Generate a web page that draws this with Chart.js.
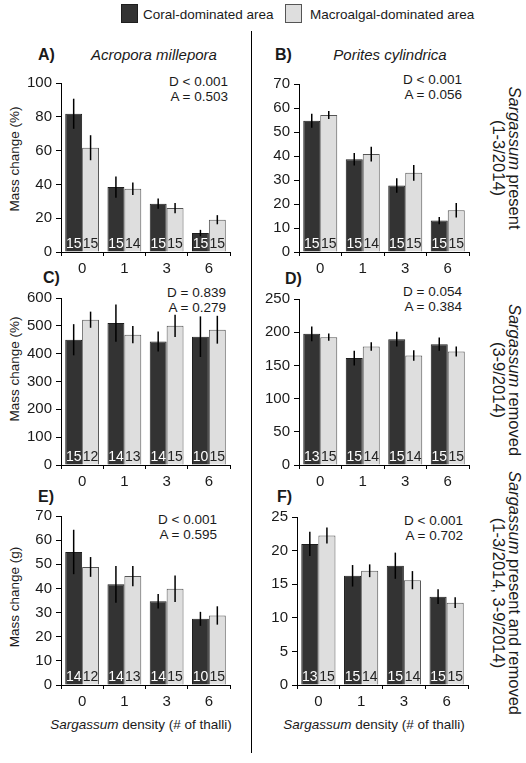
<!DOCTYPE html>
<html>
<head>
<meta charset="utf-8">
<script src="https://cdn.jsdelivr.net/npm/chart.js@4.4.1/dist/chart.umd.min.js"></script>
<style>
body { margin: 0; background: #fff; }
#fig { position: relative; width: 526px; height: 763px; overflow: hidden; font-family: "Liberation Sans", Arial, sans-serif; color: #1a1a1a; }
#fig canvas { position: absolute; }
.t { position: absolute; white-space: nowrap; line-height: 1; }
.lbl { font-weight: bold; font-size: 16px; }
.sp { font-style: italic; font-size: 15px; transform: translateX(-50%); }
.stat { font-size: 13.5px; line-height: 15px; text-align: right; transform: translateX(-100%); }
.ytitle { font-size: 13.5px; transform: translate(-50%, -50%) rotate(-90deg); }
.xtitle { font-size: 13.5px; transform: translate(-50%, -50%); }
.side { font-size: 16.5px; line-height: 16px; text-align: center; transform: translate(-50%, -50%) rotate(90deg); }
.box { position: absolute; width: 17px; height: 19px; box-sizing: border-box; }
</style>
</head>
<body>
<div id="fig">
  <div class="box" style="left:121px;top:4px;background:#333;border:1px solid #1e1e1e"></div>
  <div class="t" style="left:143px;top:8px;font-size:13.5px">Coral-dominated area</div>
  <div class="box" style="left:285px;top:4px;background:#dedede;border:1px solid #555"></div>
  <div class="t" style="left:310px;top:8px;font-size:13.5px">Macroalgal-dominated area</div>
  <div style="position:absolute;left:251px;top:31px;width:1px;height:722px;background:#000"></div>

  <div class="t lbl" style="left:38px;top:47px">A)</div>
  <div class="t sp" style="left:154px;top:47px">Acropora millepora</div>
  <div class="t lbl" style="left:275px;top:47px">B)</div>
  <div class="t sp" style="left:390px;top:47px">Porites cylindrica</div>
  <div class="t lbl" style="left:43px;top:270px">C)</div>
  <div class="t lbl" style="left:285px;top:271px">D)</div>
  <div class="t lbl" style="left:38px;top:489px">E)</div>
  <div class="t lbl" style="left:277px;top:489px">F)</div>

  <div class="t stat" style="left:228px;top:74px">D &lt; 0.001<br>A = 0.503</div>
  <div class="t stat" style="left:462px;top:71.5px">D &lt; 0.001<br>A = 0.056</div>
  <div class="t stat" style="left:226px;top:284.5px">D = 0.839<br>A = 0.279</div>
  <div class="t stat" style="left:462px;top:284px">D = 0.054<br>A = 0.384</div>
  <div class="t stat" style="left:217px;top:512px">D &lt; 0.001<br>A = 0.595</div>
  <div class="t stat" style="left:463px;top:513px">D &lt; 0.001<br>A = 0.702</div>

  <div class="t ytitle" style="left:15px;top:159px">Mass change (%)</div>
  <div class="t ytitle" style="left:15px;top:369px">Mass change (%)</div>
  <div class="t ytitle" style="left:15px;top:597px">Mass change (g)</div>
  <div class="t xtitle" style="left:141px;top:725px"><i>Sargassum</i> density (# of thalli)</div>
  <div class="t xtitle" style="left:374px;top:725px"><i>Sargassum</i> density (# of thalli)</div>

  <div class="t side" style="left:507px;top:158px"><i>Sargassum</i> present<br>(1-3/2014)</div>
  <div class="t side" style="left:507px;top:380px"><i>Sargassum</i> removed<br>(3-9/2014)</div>
  <div class="t side" style="left:507px;top:593px"><i>Sargassum</i> present and removed<br>(1-3/2014, 3-9/2014)</div>

  <canvas id="cA"></canvas><canvas id="cB"></canvas>
  <canvas id="cC"></canvas><canvas id="cD"></canvas>
  <canvas id="cE"></canvas><canvas id="cF"></canvas>
</div>
<script>
const densities = ['0', '1', '3', '6'];

// A) Acropora, Sargassum present
const acroPresCoral = [81.8, 38.4, 28.6, 11.2];
const acroPresCoralSE = [8.9, 6.3, 3.0, 1.9];
const acroPresMacro = [61.7, 37.4, 26.0, 19.1];
const acroPresMacroSE = [7.4, 3.7, 3.0, 2.7];
const acroPresN = [[15, 15, 15, 15], [15, 14, 15, 15]];

// B) Porites, Sargassum present
const porPresCoral = [54.7, 38.6, 27.7, 13.1];
const porPresCoralSE = [2.9, 2.6, 3.0, 1.5];
const porPresMacro = [57.1, 40.8, 33.0, 17.4];
const porPresMacroSE = [1.7, 3.1, 3.3, 3.0];
const porPresN = [[15, 15, 15, 15], [15, 14, 15, 15]];

// C) Acropora, Sargassum removed
const acroRemCoral = [450, 510, 444, 461];
const acroRemCoralSE = [56, 67, 36, 73];
const acroRemMacro = [522, 468, 500, 486];
const acroRemMacroSE = [29, 31, 40, 50];
const acroRemN = [[15, 14, 14, 10], [12, 13, 15, 15]];

// D) Porites, Sargassum removed
const porRemCoral = [197.5, 161, 189.5, 182];
const porRemCoralSE = [11, 11, 11, 10];
const porRemMacro = [192.5, 178.5, 165, 171];
const porRemMacroSE = [5.5, 6.5, 8, 7.5];
const porRemN = [[13, 15, 15, 15], [15, 14, 14, 15]];

// E) Acropora, whole year (g)
const acroAllCoral = [55.1, 41.7, 34.7, 27.4];
const acroAllCoralSE = [9.2, 7.6, 3.0, 2.9];
const acroAllMacro = [48.9, 45.1, 39.9, 28.8];
const acroAllMacroSE = [4.1, 4.2, 5.5, 3.8];
const acroAllN = [[14, 14, 14, 10], [12, 13, 15, 15]];

// F) Porites, whole year (g)
const porAllCoral = [21.0, 16.25, 17.75, 13.15];
const porAllCoralSE = [1.8, 1.6, 1.95, 1.1];
const porAllMacro = [22.25, 17.0, 15.6, 12.25];
const porAllMacroSE = [1.2, 0.95, 1.35, 0.8];
const porAllN = [[13, 15, 15, 15], [15, 14, 14, 15]];

Chart.defaults.font.family = '"Liberation Sans", Arial, sans-serif';
Chart.defaults.color = '#1a1a1a';

// error bars + sample sizes inside the bars
const errorBars = {
  id: 'errorBars',
  afterDatasetsDraw(chart) {
    const ctx = chart.ctx;
    const y = chart.scales.y;
    chart.data.datasets.forEach((ds, i) => {
      chart.getDatasetMeta(i).data.forEach((bar, j) => {
        const v = ds.data[j], e = ds.errors[j];
        ctx.save();
        ctx.strokeStyle = '#000';
        ctx.lineWidth = 1.5;
        ctx.beginPath();
        ctx.moveTo(bar.x, y.getPixelForValue(v + e));
        ctx.lineTo(bar.x, y.getPixelForValue(v - e));
        ctx.stroke();
        ctx.fillStyle = i === 0 ? '#fff' : '#222';
        ctx.font = '14px "Liberation Sans", Arial, sans-serif';
        ctx.textAlign = 'center';
        ctx.textBaseline = 'alphabetic';
        ctx.fillText(String(ds.counts[j]), bar.x, y.getPixelForValue(0) - 4);
        ctx.restore();
      });
    });
  }
};

function makePanel(id, box, yMax, yStep, coral, coralSE, macro, macroSE, ns) {
  const padL = 55, padT = 20, padR = 10, padB = 35;
  const cv = document.getElementById(id);
  const w = box.right - box.left + padL + padR;
  const h = box.bottom - box.top + padT + padB;
  cv.style.left = (box.left - padL) + 'px';
  cv.style.top = (box.top - padT) + 'px';
  cv.width = w; cv.height = h;
  cv.style.width = w + 'px'; cv.style.height = h + 'px';
  new Chart(cv, {
    type: 'bar',
    data: {
      labels: densities,
      datasets: [
        { data: coral, errors: coralSE, counts: ns[0], backgroundColor: '#333333', borderColor: '#1e1e1e', borderWidth: 1, categoryPercentage: 0.8, barPercentage: 1 },
        { data: macro, errors: macroSE, counts: ns[1], backgroundColor: '#dedede', borderColor: '#555555', borderWidth: 1, categoryPercentage: 0.8, barPercentage: 1 }
      ]
    },
    options: {
      responsive: false,
      animation: false,
      devicePixelRatio: 1,
      layout: { padding: { left: padL - 44, top: padT, right: padR, bottom: padB - 30 } },
      plugins: { legend: { display: false }, tooltip: { enabled: false } },
      scales: {
        x: {
          grid: { drawOnChartArea: false, tickLength: 4, color: '#000' },
          border: { color: '#000' },
          ticks: { color: '#1a1a1a', font: { size: 15 }, padding: 4 },
          afterFit: (s) => { s.height = 30; }
        },
        y: {
          min: 0, max: yMax,
          grid: { drawOnChartArea: false, tickLength: 5, color: '#000' },
          border: { color: '#000' },
          ticks: { stepSize: yStep, color: '#1a1a1a', font: { size: 15 }, padding: 4 },
          afterFit: (s) => { s.width = 44; }
        }
      }
    },
    plugins: [errorBars]
  });
}

makePanel('cA', { left: 61, right: 230, top: 83, bottom: 252 }, 100, 20, acroPresCoral, acroPresCoralSE, acroPresMacro, acroPresMacroSE, acroPresN);
makePanel('cB', { left: 299, right: 469, top: 84, bottom: 252 }, 70, 10, porPresCoral, porPresCoralSE, porPresMacro, porPresMacroSE, porPresN);
makePanel('cC', { left: 61, right: 230, top: 298, bottom: 465 }, 600, 100, acroRemCoral, acroRemCoralSE, acroRemMacro, acroRemMacroSE, acroRemN);
makePanel('cD', { left: 299, right: 469, top: 299, bottom: 465 }, 250, 50, porRemCoral, porRemCoralSE, porRemMacro, porRemMacroSE, porRemN);
makePanel('cE', { left: 61, right: 230, top: 516, bottom: 685 }, 70, 10, acroAllCoral, acroAllCoralSE, acroAllMacro, acroAllMacroSE, acroAllN);
makePanel('cF', { left: 297, right: 468, top: 517, bottom: 685 }, 25, 5, porAllCoral, porAllCoralSE, porAllMacro, porAllMacroSE, porAllN);
</script>
</body>
</html>
